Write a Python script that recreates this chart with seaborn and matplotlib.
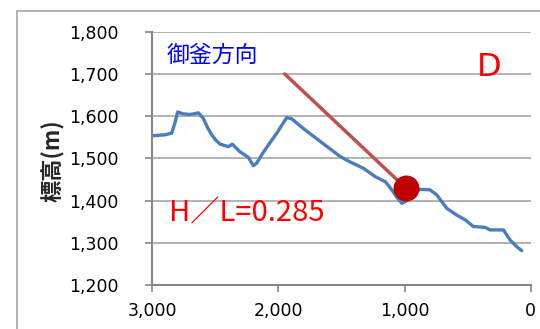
import matplotlib
matplotlib.use("Agg")
import matplotlib.pyplot as plt
import matplotlib.ticker as mticker
from matplotlib.patches import Rectangle
import seaborn as sns
import pandas as pd

# Profile data (distance in m, elevation in m)
dist = [2992, 2900, 2846, 2820, 2799, 2760, 2701, 2635, 2596, 2560, 2529, 2495,
        2463, 2397, 2366, 2305, 2239, 2199, 2172, 2130, 2080, 2013, 1934, 1895,
        1803, 1671, 1512, 1433, 1327, 1232, 1152, 1112, 1060, 1022, 983, 930,
        878, 799, 745, 665, 586, 520, 454, 361, 321, 216, 163, 110, 71]
elev = [1554, 1556, 1560, 1585, 1610, 1606, 1604, 1608, 1595, 1572, 1556, 1543,
        1534, 1528, 1534, 1516, 1503, 1483, 1489, 1510, 1532, 1560, 1597, 1594,
        1571, 1541, 1505, 1492, 1477, 1457, 1445, 1430, 1408, 1394, 1400, 1418,
        1427, 1426, 1414, 1382, 1366, 1355, 1339, 1337, 1331, 1331, 1307, 1291,
        1282]

hl_x = [1950, 990]
hl_y = [1700, 1430]
dot_x = [990]
dot_y = [1430]

xticks = [3000, 2000, 1000, 0]
yticks = [1200, 1300, 1400, 1500, 1600, 1700, 1800]

sns.set_style("white")
plt.rcParams['font.family'] = ['Noto Sans CJK JP', 'DejaVu Sans']

fig = plt.figure(figsize=(5.4, 3.29), dpi=100)
ax = fig.add_axes([152.3/540, 1-285.3/329, (530.7-152.3)/540, (285.3-31.7)/329])

# outer border of chart area
fig.patches.append(Rectangle((17/540, -0.1), 1.2, 1-11/329+0.1, transform=fig.transFigure,
                             fill=False, edgecolor='#a6a6a6', linewidth=1.2))

df = pd.DataFrame({"d": dist, "e": elev})
sns.lineplot(data=df, x="d", y="e", ax=ax, color="#4A7EBB", linewidth=2.4, sort=False)
sns.lineplot(x=hl_x, y=hl_y, ax=ax, color="#C0504D", linewidth=2.5, sort=False)
sns.scatterplot(x=dot_x, y=dot_y, ax=ax, color="#C00000", s=300, edgecolor="#C00000", zorder=5)

ax.set_xlim(3000, 0)
ax.set_ylim(1200, 1800)
ax.set_xticks(xticks)
ax.set_yticks(yticks)
fmt = mticker.FuncFormatter(lambda v, p: f"{int(v):,}")
ax.xaxis.set_major_formatter(fmt)
ax.yaxis.set_major_formatter(fmt)
ax.grid(axis='y', color='#a6a6a6', linewidth=1.2)
ax.set_axisbelow(True)
for s in ['top', 'right']:
    ax.spines[s].set_visible(False)
for s in ['left', 'bottom']:
    ax.spines[s].set_color('#868686')
    ax.spines[s].set_linewidth(1.5)
ax.tick_params(axis='both', which='major', length=5, width=1.2, color='#868686',
               labelsize=12.5, labelcolor='black', direction='out', bottom=True, left=True)
for lab in ax.get_xticklabels() + ax.get_yticklabels():
    lab.set_family(['DejaVu Sans'])
ax.tick_params(axis='x', pad=7)
ax.tick_params(axis='y', pad=19)
ax.set_xlabel("")
ax.set_ylabel("標高(m)", fontsize=16, fontweight='bold')
ax.yaxis.set_label_coords(-(152.3-65)/(530.7-152.3), 0.49)

ax.text(2890, 1745, "御釜方向", color="#0000FF", fontsize=16.5, va='center', ha='left')
ax.text(430, 1716, "D", color="#FF0000", fontsize=23, va='center', ha='left',
        family=['DejaVu Sans'])
ax.text(2870, 1370, "H／L=0.285", color="#FF0000", fontsize=21, va='center', ha='left')

fig.savefig("out.png", dpi=100)
